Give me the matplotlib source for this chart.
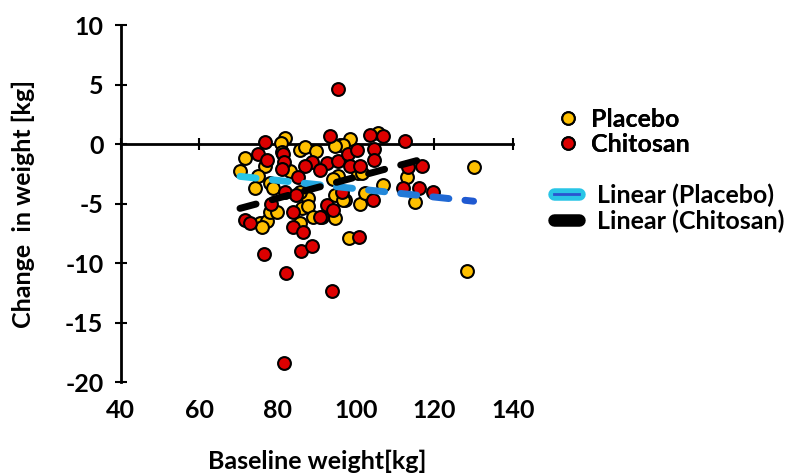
import numpy as np
import matplotlib
matplotlib.use("Agg")
from matplotlib import pyplot as plt
from matplotlib.lines import Line2D
from matplotlib.legend_handler import HandlerTuple

plt.rcParams['font.family'] = ['Lato', 'DejaVu Sans']
plt.rcParams['font.weight'] = 'bold'
plt.rcParams['axes.unicode_minus'] = False

# values: baseline weight [kg], change in weight [kg]
placebo_x = [71.6, 76.7, 81.8, 80.8, 95.9, 98.4, 105.6, 96.6, 94.6, 81.0,
             85.7, 86.9, 89.7, 100.5, 95.4, 70.4, 75.0, 74.2, 78.0, 78.8,
             83.1, 86.4, 87.7, 94.6, 97.1, 101.0, 113.0, 115.0, 75.5, 77.2,
             76.0, 78.0, 79.8, 86.2, 87.7, 89.0, 85.7, 98.2, 130.0, 128.3,
             94.1, 102.2, 106.8, 85.7, 101.5, 96.6, 94.6]
placebo_y = [-1.2, -1.8, 0.5, 0.1, -0.1, 0.4, 0.9, -0.1, -0.2, -0.7,
             -0.5, -0.25, -0.6, -2.4, -2.7, -2.3, -2.7, -3.7, -3.3, -3.7,
             -2.3, -4.1, -4.5, -4.3, -4.7, -5.0, -2.8, -4.9, -6.6, -6.5,
             -7.0, -5.7, -5.7, -5.4, -5.2, -6.1, -6.6, -7.9, -1.9, -10.7,
             -2.9, -4.1, -3.4, -4.0, -2.4, -4.7, -6.2]

chitosan_x = [95.4, 76.7, 93.3, 103.5, 106.8, 112.4, 75.0, 77.2, 81.3, 81.6,
              81.0, 88.7, 86.9, 85.2, 92.5, 95.4, 97.9, 100.2, 104.5, 104.5,
              98.4, 101.0, 90.8, 81.8, 96.4, 104.3, 111.9, 113.2, 116.8, 116.0,
              119.6, 71.6, 73.0, 83.9, 92.5, 91.3, 83.9, 86.4, 100.7, 76.5,
              85.9, 88.7, 82.1, 93.8, 81.6, 78.3, 84.6, 94.1, 90.8]
chitosan_y = [4.6, 0.2, 0.7, 0.8, 0.7, 0.25, -0.8, -1.3, -0.8, -1.5,
              -2.1, -1.5, -1.8, -2.8, -1.6, -1.4, -0.8, -0.5, -0.4, -1.3,
              -1.8, -1.8, -2.2, -4.0, -4.0, -4.7, -3.7, -1.9, -1.8, -3.7,
              -4.0, -6.4, -6.6, -5.7, -5.1, -6.1, -7.0, -7.4, -7.8, -9.2,
              -9.0, -8.6, -10.8, -12.35, -18.4, -5.0, -4.3, -5.5, -6.1]

# linear trendlines as shown: slope, intercept, x range
placebo_fit = (-0.035, -0.25)
placebo_fit_range = (70.4, 130.0)
chitosan_fit = (0.089, -11.67)
chitosan_fit_range = (70.4, 117.0)

yellow = '#FFC000'
red = '#DD0000'


def dashed_trend(ax, fit, xr, colors, lw=5, on=4.1, off=4.1):
    # draw a dashed straight line, one piece per dash so each can get its own colour
    starts = np.arange(xr[0], xr[1], on + off)
    for i, x0 in enumerate(starts):
        x1 = min(x0 + on, xr[1])
        xs = np.array([x0, x1])
        c = colors(i / max(len(starts) - 1, 1))
        ax.plot(xs, fit[0] * xs + fit[1], color=c, lw=lw,
                solid_capstyle='round', zorder=4)


def cyan_to_blue(t):
    a = np.array([0.16, 0.78, 0.90])
    b = np.array([0.12, 0.35, 0.82])
    return tuple(a + (b - a) * t)


fs = 18
fig = plt.figure(figsize=(7.95, 4.74), dpi=100)
ax = fig.add_axes([0.152, 0.194, 0.493, 0.753])

ax.scatter(placebo_x, placebo_y, s=85, color=yellow, edgecolor='black',
           linewidth=1.5, zorder=3)
ax.scatter(chitosan_x, chitosan_y, s=85, color=red, edgecolor='black',
           linewidth=1.5, zorder=3)

dashed_trend(ax, placebo_fit, placebo_fit_range, cyan_to_blue)
dashed_trend(ax, chitosan_fit, chitosan_fit_range, lambda t: 'black')

ax.set_xlim(40, 140)
ax.set_ylim(-20, 10)
ax.set_xticks([40, 60, 80, 100, 120, 140])
ax.set_yticks([-20, -15, -10, -5, 0, 5, 10])

for s in ['top', 'right']:
    ax.spines[s].set_visible(False)
ax.spines['bottom'].set_position(('data', 0))
ax.spines['left'].set_linewidth(2)
ax.spines['bottom'].set_linewidth(2)
ax.tick_params(axis='both', direction='inout', length=9, width=1.5,
               labelsize=fs)
ax.tick_params(axis='x', labelbottom=False)
ax.tick_params(axis='y', pad=8)

# x tick labels sit at the bottom of the plot, not on the zero line
sec = ax.secondary_xaxis('bottom')
sec.spines['bottom'].set_visible(False)
sec.set_xticks([40, 60, 80, 100, 120, 140])
sec.tick_params(length=0, labelsize=fs, pad=12)
sec.set_xlabel('Baseline weight[kg]', fontsize=fs, fontweight='bold', labelpad=20)
ax.set_ylabel('Change  in weight [kg]', fontsize=fs, fontweight='bold', labelpad=22)

mk = dict(marker='o', linestyle='none', markersize=9, markeredgecolor='black',
          markeredgewidth=1.5)
leg1 = fig.legend([Line2D([], [], color=yellow, **mk), Line2D([], [], color=red, **mk)],
                  ['Placebo', 'Chitosan'], loc='upper left',
                  bbox_to_anchor=(0.68, 0.81), frameon=False, fontsize=fs,
                  handlelength=0.8, handletextpad=0.5, labelspacing=0.1,
                  borderpad=0.2)
trend_p = (Line2D([], [], color='#29c5e6', lw=9, solid_capstyle='round'),
           Line2D([], [], color='#2a55d0', lw=2))
trend_c = Line2D([], [], color='black', lw=9, solid_capstyle='round')
leg2 = fig.legend([trend_p, trend_c], ['Linear (Placebo)', 'Linear (Chitosan)'],
                  loc='upper left', bbox_to_anchor=(0.675, 0.65), frameon=False,
                  fontsize=fs, handlelength=1.0, handletextpad=0.7,
                  labelspacing=0.1, borderpad=0.2,
                  handler_map={tuple: HandlerTuple(ndivide=1)})
fig.add_artist(leg1)

fig.savefig('out.png', dpi=100)
